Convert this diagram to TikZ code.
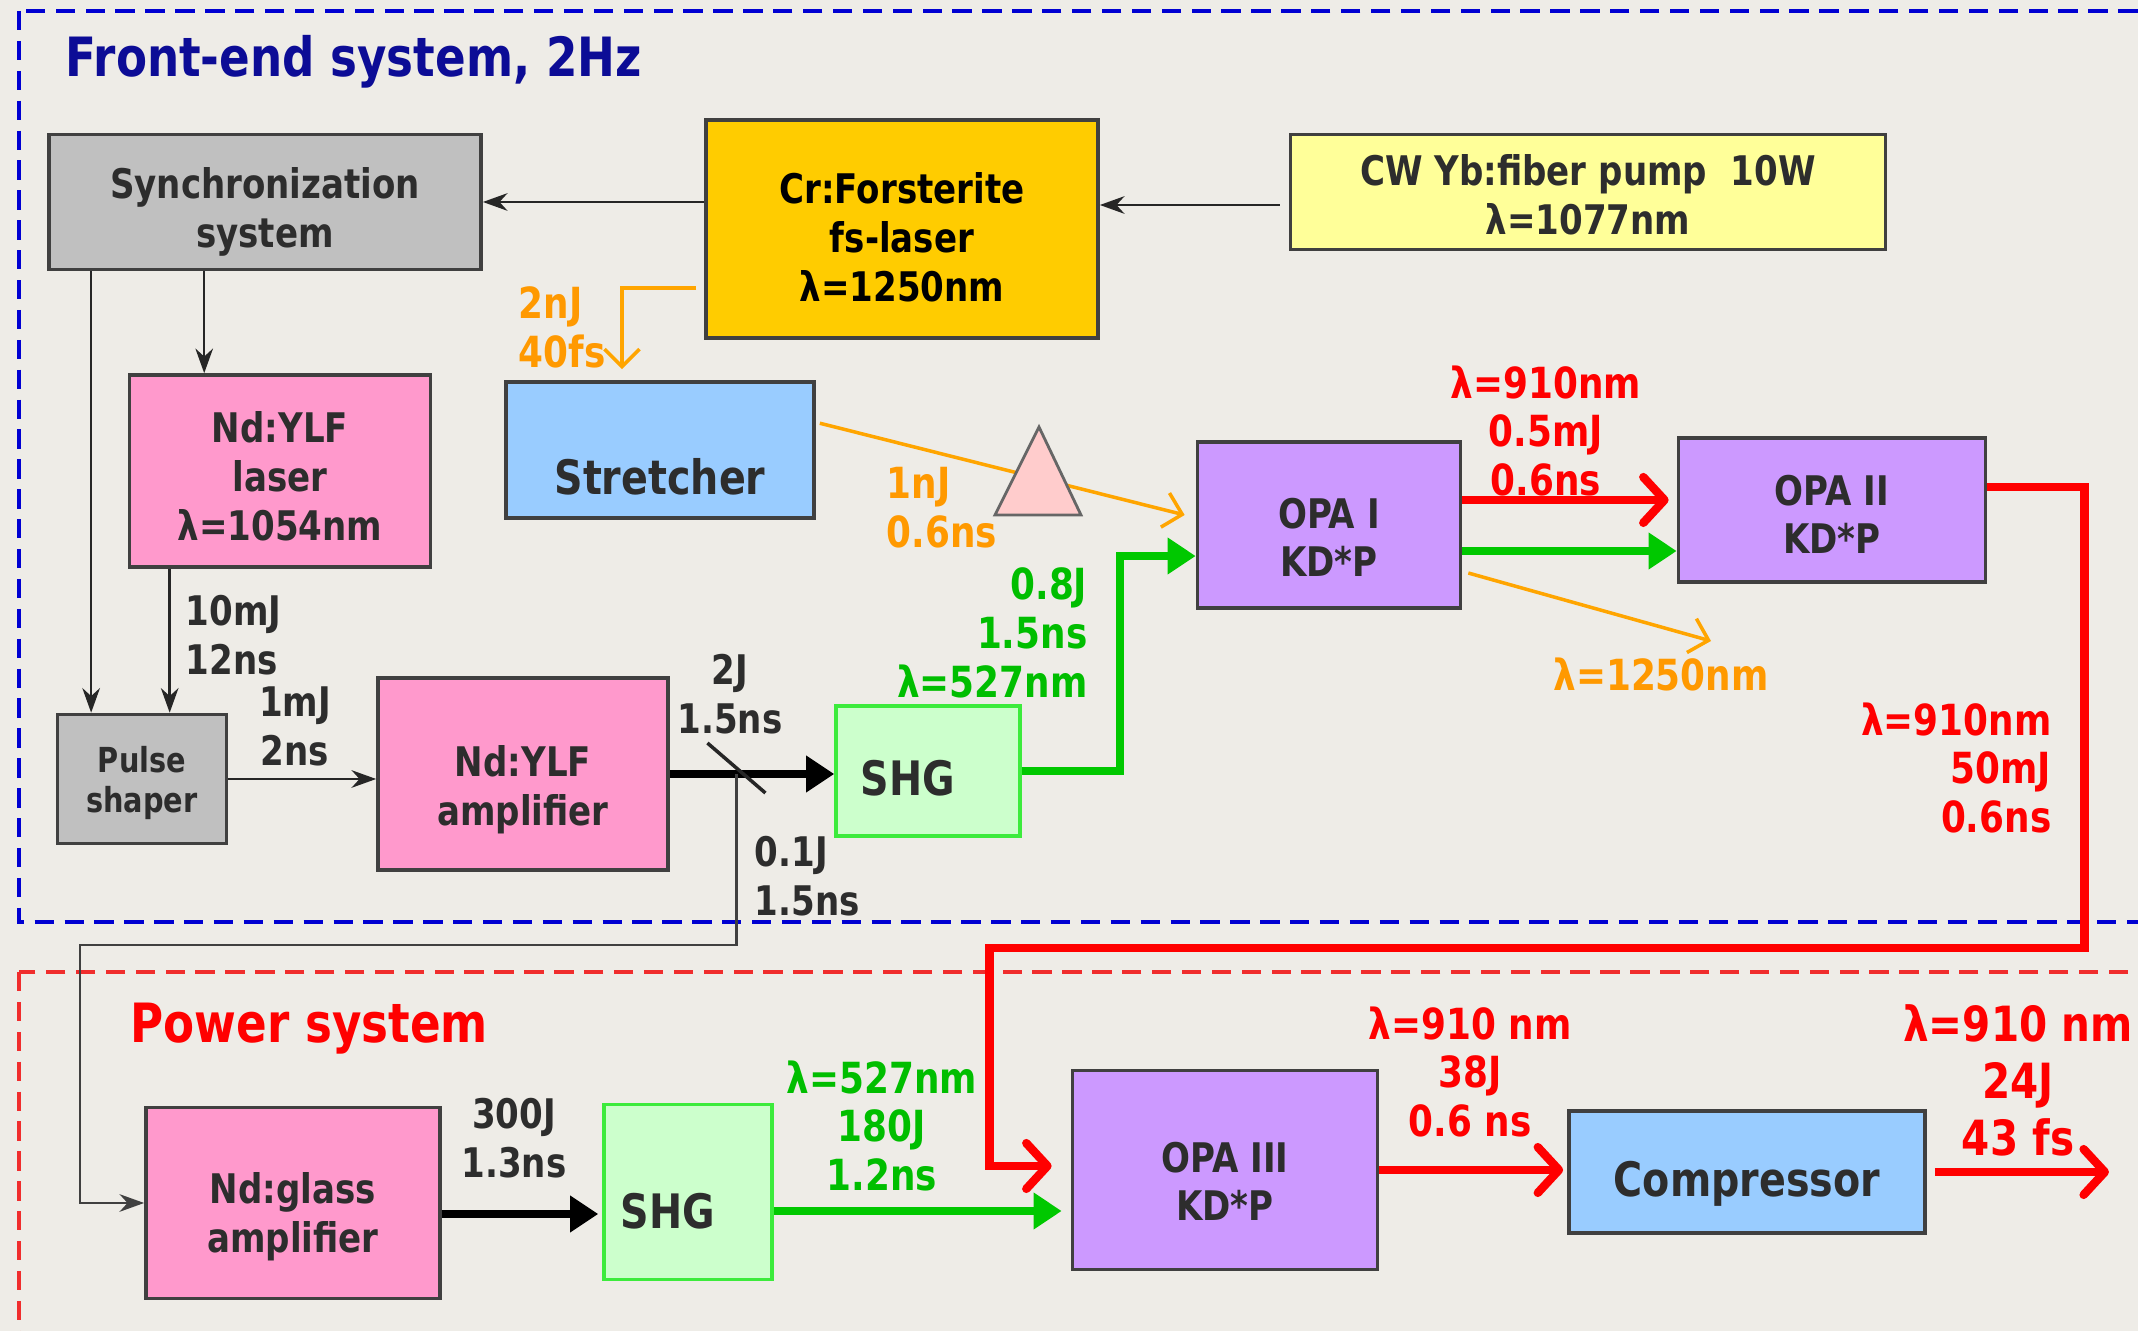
\documentclass[tikz,border=0pt]{standalone}
\usepackage{fontspec}
\setmainfont{DejaVu Sans}[FakeStretch=0.835]
\usepackage{xcolor}
\usepackage{tikz}
\usetikzlibrary{arrows.meta,positioning,calc}

\definecolor{bgcol}{RGB}{238,236,231}
\definecolor{navy}{RGB}{12,12,150}
\definecolor{dashblue}{RGB}{0,0,210}
\definecolor{dashred}{RGB}{240,45,45}
\definecolor{beamred}{RGB}{255,0,0}
\definecolor{beamgreen}{RGB}{0,200,0}
\definecolor{beamorange}{RGB}{255,165,0}
\definecolor{txtorange}{RGB}{255,153,0}
\definecolor{txtgreen}{RGB}{0,190,0}
\definecolor{txtdark}{RGB}{45,45,45}
\definecolor{boxgray}{RGB}{192,192,192}
\definecolor{boxgold}{RGB}{255,204,0}
\definecolor{boxyellow}{RGB}{255,255,153}
\definecolor{boxpink}{RGB}{255,153,204}
\definecolor{boxblue}{RGB}{153,204,255}
\definecolor{boxpurple}{RGB}{204,153,255}
\definecolor{boxgreen}{RGB}{204,255,204}
\definecolor{shgedge}{RGB}{60,235,60}
\definecolor{prismpink}{RGB}{255,204,204}

\newcommand\boxfont{\fontsize{11.6}{13.9}\selectfont\bfseries}
\newcommand\beamfont{\fontsize{12.2}{13.9}\selectfont\bfseries}
\newcommand\bigboxfont{\fontsize{13.5}{16}\selectfont\bfseries}
\newcommand\shaperfont{\fontsize{9.8}{11.6}\selectfont\bfseries}
\newcommand\outfont{\fontsize{13.8}{16.2}\selectfont\bfseries}
\newcommand\titlefont{\fontsize{15.4}{18}\selectfont\bfseries}
% lowers the text inside a box by #1
\newcommand\textdrop[1]{\rule{0pt}{\dimexpr 0.76em+2\dimexpr #1\relax\relax}}

\begin{document}
\begin{tikzpicture}[
    x=0.01cm, y=-0.01cm,
    box/.style={draw=black!75, line width=1pt, font=\boxfont, text=txtdark, align=center, inner sep=0pt},
    lbl/.style={font=\boxfont, text=txtdark, inner sep=0pt},
    clbl/.style={font=\beamfont, inner sep=0pt},
    thinarrow/.style={-{Stealth[length=7pt,width=5pt]}, line width=0.7pt, black!85},
    thickarrow/.style={-{Triangle[length=8pt,width=10pt]}, line width=2.4pt},
    redbeam/.style={-{Straight Barb[length=6pt,width=13pt,line join=round,line cap=round]}, line width=2.4pt, beamred},
    orangebeam/.style={-{Straight Barb[length=5pt,width=10pt]}, line width=1pt, beamorange},
    frame/.style={line width=1.2pt, dash pattern=on 5.5pt off 3pt},
]
\clip (0,0) rectangle (2138,1331);
\fill[bgcol] (0,0) rectangle (2138,1331);

% system frames
\draw[frame, dashblue] (19,11) rectangle (2170,922);
\draw[frame, dashred] (19,972) rectangle (2170,1370);
\node[font=\titlefont, text=navy, anchor=west, inner sep=0pt] (fronttitle) at (65,62) {Front-end system, 2Hz};
\node[font=\titlefont, text=beamred, anchor=west, inner sep=0pt] (powertitle) at (130,1029) {Power system};

% front-end boxes
\node[box, fill=boxgray, minimum width=4.32cm, minimum height=1.35cm] (sync) at (265,202) {\textdrop{0.1cm}Synchronization\\system};
\node[box, fill=boxgold, text=black, minimum width=3.92cm, minimum height=2.18cm] (crf) at (902,229) {\textdrop{0.08cm}Cr:Forsterite\\fs-laser\\λ=1250nm};
\node[box, fill=boxyellow, minimum width=5.95cm, minimum height=1.15cm] (cwyb) at (1588,192) {\textdrop{0.03cm}CW Yb:fiber pump~~10W\\λ=1077nm};
\node[box, fill=boxpink, minimum width=3.01cm, minimum height=1.92cm] (ylf) at (280,471) {\textdrop{0.05cm}Nd:YLF\\laser\\λ=1054nm};
\node[box, fill=boxblue, font=\bigboxfont, minimum width=3.08cm, minimum height=1.36cm] (stretcher) at (660,450) {\textdrop{0.27cm}Stretcher};
\node[box, fill=boxpurple, minimum width=2.63cm, minimum height=1.66cm] (opa1) at (1329,525) {\textdrop{0.12cm}OPA I\\KD*P};
\node[box, fill=boxpurple, minimum width=3.07cm, minimum height=1.44cm] (opa2) at (1832,510) {\textdrop{0.04cm}OPA II\\KD*P};
\node[box, fill=boxgray, font=\shaperfont, minimum width=1.69cm, minimum height=1.29cm] (shaper) at (142,779) {\textdrop{0.04cm}Pulse\\shaper};
\node[box, fill=boxpink, minimum width=2.90cm, minimum height=1.92cm] (ylfamp) at (523,774) {\textdrop{0.16cm}Nd:YLF\\amplifier};
\node[box, fill=boxgreen, draw=shgedge, font=\bigboxfont, minimum width=1.84cm, minimum height=1.30cm] (shg1) at (928,771) {\textdrop{0.07cm}SHG\hspace{0.4cm}};

% power boxes
\node[box, fill=boxpink, minimum width=2.94cm, minimum height=1.91cm] (glass) at (293,1203) {\textdrop{0.14cm}Nd:glass\\amplifier};
\node[box, fill=boxgreen, draw=shgedge, font=\bigboxfont, minimum width=1.68cm, minimum height=1.75cm] (shg2) at (688,1192) {\textdrop{0.19cm}SHG\hspace{0.4cm}};
\node[box, fill=boxpurple, minimum width=3.05cm, minimum height=1.99cm] (opa3) at (1225,1170) {\textdrop{0.11cm}OPA III\\KD*P};
\node[box, fill=boxblue, font=\bigboxfont, minimum width=3.56cm, minimum height=1.22cm] (comp) at (1747,1172) {\textdrop{0.11cm}Compressor};

% seed and sync lines
\coordinate (cwout) at ([yshift=-0.13cm,xshift=-0.09cm]cwyb.west);
\draw[thinarrow] (cwout) -- (cwout -| crf.east);
\draw[thinarrow] (crf.west |- sync.east) -- (sync.east);
\draw[thinarrow] ([xshift=0.44cm]sync.south west) -- ([xshift=0.44cm]sync.south west |- shaper.north);
\draw[thinarrow] ([xshift=1.57cm]sync.south west) -- ([xshift=1.57cm]sync.south west |- ylf.north);
\draw[thinarrow] ([xshift=0.42cm]ylf.south west) -- ([xshift=0.42cm]ylf.south west |- shaper.north);
\draw[thinarrow] (shaper.east) -- (shaper.east -| ylfamp.west);
\draw[orangebeam] ([yshift=-0.59cm,xshift=-0.08cm]crf.west) -| ([xshift=-0.38cm,yshift=0.11cm]stretcher.north);

% pump split
\draw[thickarrow, black] (ylfamp.east) -- (ylfamp.east -| shg1.west);
\coordinate (split) at ($(ylfamp.east)!0.405!(ylfamp.east -| shg1.west)$);
\draw[line width=1pt, black!85] ($(split)+(-29,-31)$) -- ($(split)+(29,19)$);
\draw[thinarrow, black!75] (split) -- (split |- 0,945) -| ([xshift=-0.64cm]glass.west) -- (glass.west);

% OPA chain
\draw[thickarrow, beamgreen] (shg1.east) -- ++(0.98cm,0) |- ([yshift=-0.31cm]opa1.west);
\draw[orangebeam] ([yshift=-0.43cm,xshift=0.04cm]stretcher.north east) -- ([xshift=-0.11cm,yshift=0.1cm]opa1.west);
\draw[fill=prismpink, draw=black!60, line width=0.8pt] (1039,427) -- (1081,515) -- (995,515) -- cycle;
\draw[redbeam] ([yshift=0.25cm]opa1.east) -- ([yshift=0.25cm,xshift=-0.08cm]opa1.east -| opa2.west);
\draw[thickarrow, beamgreen] ([yshift=-0.26cm]opa1.east) -- ([yshift=-0.26cm]opa1.east -| opa2.west);
\coordinate (idler) at (1711,641);
\draw[orangebeam] ([yshift=-0.48cm,xshift=0.06cm]opa1.east) -- (idler);
\draw[redbeam] ([yshift=0.23cm]opa2.east) -- ++(0.97cm,0) -- ++(0,-4.61cm) -| ([xshift=-0.81cm,yshift=0.04cm]opa3.west) -- ([xshift=-0.19cm,yshift=0.04cm]opa3.west);

% power chain
\draw[thickarrow, black] ([yshift=-0.11cm]glass.east) -- ([yshift=-0.11cm,xshift=-0.04cm]glass.east -| shg2.west);
\draw[thickarrow, beamgreen] ([yshift=-0.19cm]shg2.east) -- ([yshift=-0.19cm,xshift=-0.09cm]shg2.east -| opa3.west);
\draw[redbeam] (opa3.east) -- ([xshift=-0.04cm]opa3.east -| comp.west);
\coordinate (out) at ([xshift=1.82cm]comp.east);
\draw[redbeam] ([xshift=0.08cm]comp.east) -- (out);

% beam labels
\node[lbl, anchor=west, align=left] (l10mj) at (185,635) {10mJ\\12ns};
\node[lbl, align=center] (l1mj) at (295,726) {1mJ\\2ns};
\node[lbl, align=center] (l2j) at (730,694) {2J\\1.5ns};
\node[lbl, anchor=west, align=left] (l01j) at (754,876) {0.1J\\1.5ns};
\node[clbl, text=txtorange, anchor=west, align=left] (l2nj) at (518,327) {2nJ\\40fs};
\node[clbl, text=txtorange, anchor=west, align=left] (l1nj) at (886,508) {1nJ\\0.6ns};
\node[clbl, text=txtgreen, anchor=east, align=right] (l08j) at (1088,633) {0.8J\\1.5ns\\λ=527nm};
\node[clbl, text=beamred, align=center] (l05mj) at (1546,431) {λ=910nm\\0.5mJ\\0.6ns};
\node[clbl, text=txtorange] (lidler) at (1661,675) {λ=1250nm};
\node[clbl, text=beamred, anchor=east, align=right] (l50mj) at (2052,768) {λ=910nm\\50mJ\\0.6ns};
\node[lbl, align=center] (l300j) at (514,1138) {300J\\1.3ns};
\node[clbl, text=txtgreen, align=center] (l180j) at (882,1126) {λ=527nm\\180J\\1.2ns};
\node[clbl, text=beamred, align=center] (l38j) at (1470,1072) {λ=910 nm\\38J\\0.6 ns};
\node[clbl, font=\outfont, text=beamred, align=center] (l24j) at (2018,1080) {λ=910 nm\\24J\\43 fs};
\end{tikzpicture}
\end{document}
